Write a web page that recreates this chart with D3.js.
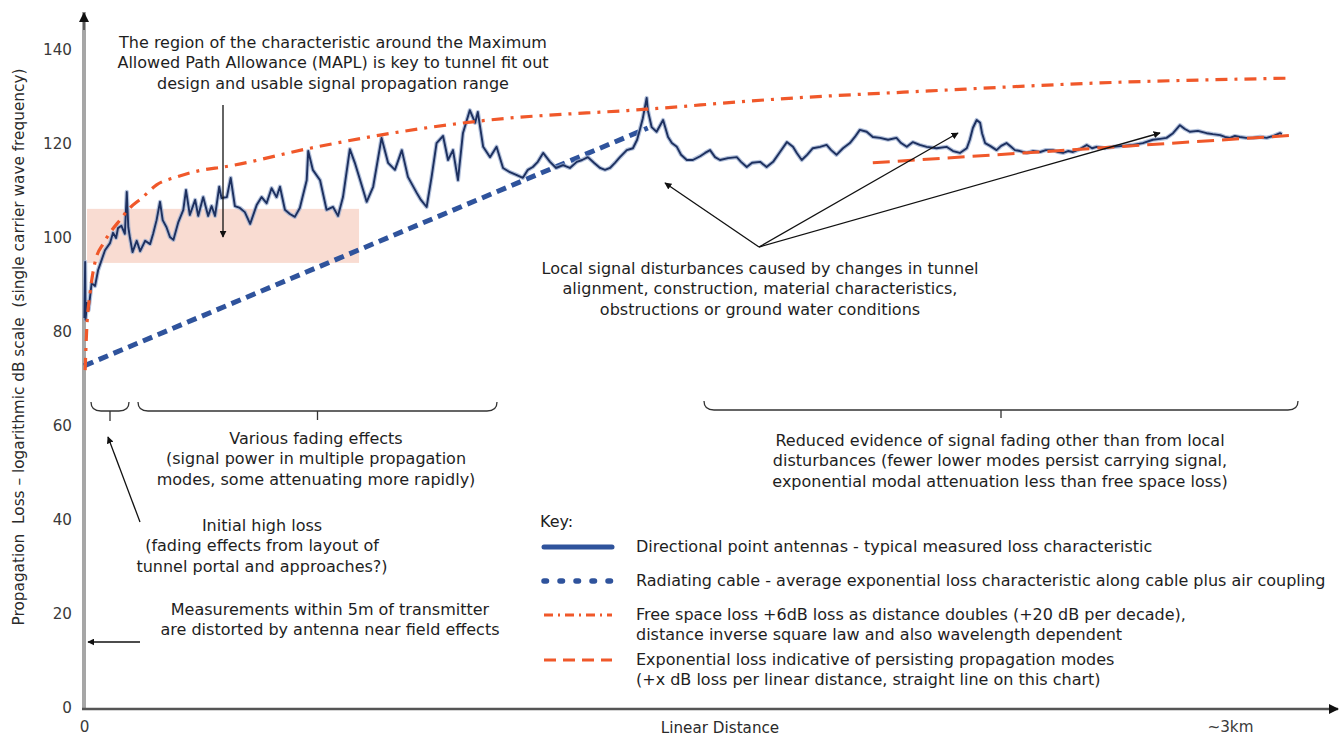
<!DOCTYPE html>
<html>
<head>
<meta charset="utf-8">
<script src="https://cdn.jsdelivr.net/npm/d3@7"></script>
<style>
  body { margin: 0; background: #ffffff; }
  svg { display: block; font-family: "DejaVu Sans", sans-serif; }
  .note { fill: #1e1e1e; font-size: 16px; }
  .tick text { fill: #3a3a3a; }
</style>
</head>
<body>
<svg id="chart" width="1344" height="740"></svg>
<script>
// ---- values --------------------------------------------------------------
const yTicks = [0, 20, 40, 60, 80, 100, 120, 140];
const xTickValues = [0, 3];
const xTickLabels = ["0", "~3km"];

// typical measured loss, directional point antennas (distance km, loss dB)
const measuredKm = [0.001,0.003,0.004,0.008,0.012,0.020,0.029,0.037,0.046,0.055,0.068,0.076,0.084,0.089,0.098,0.107,0.112,0.116,0.120,0.127,
  0.138,0.147,0.160,0.173,0.181,0.190,0.199,0.206,0.216,0.225,0.234,0.247,0.260,0.267,0.277,0.291,0.299,0.312,0.325,0.334,
  0.343,0.354,0.360,0.374,0.384,0.395,0.408,0.421,0.435,0.452,0.465,0.478,0.491,0.504,0.513,0.526,0.539,0.552,0.565,0.583,
  0.587,0.599,0.618,0.635,0.652,0.665,0.678,0.696,0.709,0.723,0.740,0.757,0.779,0.796,0.814,0.832,0.848,0.871,0.882,0.897,
  0.910,0.923,0.940,0.953,0.966,0.979,0.992,1.010,1.024,1.031,1.045,1.063,1.080,1.097,1.115,1.133,1.149,1.162,1.175,1.188,
  1.202,1.220,1.236,1.254,1.272,1.290,1.304,1.319,1.335,1.351,1.364,1.377,1.390,1.403,1.421,1.437,1.448,1.455,1.463,1.473,
  1.476,1.486,1.499,1.516,1.529,1.539,1.552,1.563,1.578,1.594,1.613,1.626,1.639,1.652,1.665,1.686,1.709,1.720,1.735,1.749,
  1.770,1.787,1.804,1.822,1.840,1.856,1.866,1.879,1.893,1.908,1.927,1.944,1.956,1.970,1.987,2.005,2.018,2.031,2.049,2.065,
  2.084,2.105,2.127,2.139,2.154,2.170,2.188,2.206,2.232,2.258,2.275,2.293,2.311,2.319,2.327,2.337,2.346,2.351,2.359,2.372,
  2.389,2.401,2.415,2.427,2.437,2.450,2.468,2.484,2.503,2.518,2.537,2.550,2.563,2.576,2.589,2.607,2.625,2.639,2.651,2.673,
  2.694,2.720,2.746,2.772,2.798,2.817,2.834,2.851,2.869,2.882,2.895,2.916,2.939,2.955,2.974,2.987,3.000,3.013,3.026,3.042,
  3.060,3.079,3.096,3.113,3.131,3.136];
const measuredDb = [83.0,94.9,82.6,86.2,84.7,90.4,89.8,93.2,95.3,97.4,98.9,101.1,100.0,102.1,102.6,100.9,109.8,102.3,100.2,97.0,
  99.4,97.2,99.4,98.7,100.9,103.8,107.7,103.8,102.3,100.2,99.6,103.4,106.0,110.2,104.9,108.1,104.7,108.7,104.7,106.8,
  104.7,110.9,108.5,108.7,112.8,106.8,106.4,105.5,103.0,107.0,108.7,107.4,110.6,108.7,110.9,106.0,105.1,104.5,106.4,112.3,
  118.5,114.5,112.3,106.0,106.6,104.7,108.7,118.9,116.0,112.3,107.7,110.9,121.3,116.0,114.5,118.7,113.0,109.6,108.1,106.6,
  113.0,120.2,121.7,116.6,118.7,112.3,122.3,127.2,124.5,126.8,119.4,117.2,119.4,114.9,114.0,113.4,112.8,114.5,115.1,116.2,
  118.1,116.2,114.9,115.5,114.9,116.2,116.6,117.2,116.0,114.9,114.5,114.9,116.0,117.2,118.7,119.1,120.9,123.0,125.5,129.8,
  127.2,123.6,122.6,125.1,121.5,120.2,119.4,117.7,116.6,116.6,117.4,118.1,118.7,117.2,116.6,117.0,117.2,116.2,115.1,116.0,
  116.2,115.1,116.2,118.3,120.4,119.4,118.1,116.6,117.7,119.1,119.4,119.8,118.7,117.7,119.1,120.2,121.5,123.0,122.6,121.5,
  121.3,120.9,121.3,120.2,119.4,120.4,119.8,119.4,119.1,119.4,118.5,118.1,119.1,120.9,123.4,125.1,124.5,122.3,120.2,119.6,
  118.7,119.6,120.2,119.4,118.7,118.5,118.1,118.5,118.3,118.7,118.7,118.3,118.1,118.5,118.3,118.9,119.8,119.1,119.4,119.1,
  119.4,119.6,119.8,120.2,120.9,121.1,121.3,122.3,124.0,123.2,122.6,122.8,122.3,122.1,121.9,121.5,121.3,121.7,121.5,121.3,
  121.3,121.5,121.3,121.7,122.3,122.1];

// free space loss reference (distance km, loss dB)
const freeSpaceKm = [0.003,0.007,0.016,0.029,0.051,0.068,0.094,0.120,0.151,0.190,0.243,0.312,0.364,0.592,0.775,1.037,1.473,1.822,2.215,2.660,3.149];
const freeSpaceDb = [71.9,80.4,88.3,94.9,98.9,101.1,103.8,106.4,108.5,111.3,113.0,114.5,115.1,119.1,121.9,124.9,127.4,129.6,131.3,133.0,134.0];

// radiating cable average loss (straight line)
const cableKm = [0.0, 1.476];
const cableDb = [72.8, 123.4];

// persisting-mode exponential loss (straight line)
const modalKm = [2.065, 3.175];
const modalDb = [116.0, 121.9];

// MAPL band
const maplKm = [0.008, 0.72];
const maplDb = [94.7, 106.2];

// ---- layout --------------------------------------------------------------
const svg = d3.select("#chart");
const x = d3.scaleLinear().domain([0, 3.275]).range([84, 1335]);
const y = d3.scaleLinear().domain([0, 140]).range([708, 50]);

const BLUE = "#2f539c", NAVY = "#1d305f", ORANGE = "#f0582a";

const defs = svg.append("defs");
defs.append("marker").attr("id", "arrow").attr("viewBox", "0 0 10 10")
  .attr("refX", 9).attr("refY", 5).attr("markerWidth", 7).attr("markerHeight", 7)
  .attr("markerUnits", "userSpaceOnUse").attr("orient", "auto")
  .append("path").attr("d", "M0,0 L10,5 L0,10 Z").attr("fill", "#111");
defs.append("marker").attr("id", "axisArrow").attr("viewBox", "0 0 10 10")
  .attr("refX", 9).attr("refY", 5).attr("markerWidth", 10).attr("markerHeight", 10)
  .attr("markerUnits", "userSpaceOnUse").attr("orient", "auto")
  .append("path").attr("d", "M0,0 L10,5 L0,10 Z").attr("fill", "#111");

// MAPL band
svg.append("rect")
  .attr("x", x(maplKm[0])).attr("width", x(maplKm[1]) - x(maplKm[0]))
  .attr("y", y(maplDb[1])).attr("height", y(maplDb[0]) - y(maplDb[1]))
  .attr("fill", "#f9dcd2");

// axes
svg.append("line").attr("x1", x(0)).attr("x2", x(0)).attr("y1", y(0)).attr("y2", 12)
  .attr("stroke", "#a6a6a6").attr("stroke-width", 4);
svg.append("line").attr("x1", x(0)).attr("x2", x(0)).attr("y1", 30).attr("y2", 13)
  .attr("stroke", "#111").attr("stroke-width", 1).attr("marker-end", "url(#axisArrow)");
svg.append("line").attr("x1", x(0) - 2).attr("x2", 1338).attr("y1", y(0) + 1).attr("y2", y(0) + 1)
  .attr("stroke", "#555").attr("stroke-width", 2.5).attr("marker-end", "url(#axisArrow)");

const yAxis = svg.append("g").attr("transform", `translate(${x(0) - 4},0)`)
  .call(d3.axisLeft(y).tickValues(yTicks).tickSize(0).tickPadding(8).tickFormat(d3.format("d")));
yAxis.select(".domain").remove();
yAxis.selectAll("text").attr("font-size", 15.2).attr("font-family", "'DejaVu Sans', sans-serif");

const xAxis = svg.append("g").attr("transform", `translate(0,${y(0)})`)
  .call(d3.axisBottom(x).tickValues(xTickValues).tickSize(0).tickPadding(13)
    .tickFormat((d, i) => xTickLabels[i]));
xAxis.select(".domain").remove();
xAxis.selectAll("text").attr("font-size", 15.2).attr("font-family", "'DejaVu Sans', sans-serif");

svg.append("text").attr("x", 720).attr("y", 733).attr("text-anchor", "middle")
  .attr("font-size", 15.2).attr("fill", "#2a2a2a").text("Linear Distance");

svg.append("text")
  .attr("transform", "translate(24,347) rotate(-90)")
  .attr("text-anchor", "middle").attr("font-size", 15.3).attr("fill", "#2a2a2a")
  .style("white-space", "pre")
  .text("Propagation  Loss \u2013 logarithmic dB scale  (single carrier wave frequency)");

// series
const line = d3.line().x(d => x(d[0])).y(d => y(d[1]));

svg.append("path").datum(cableKm.map((d, i) => [d, cableDb[i]]))
  .attr("d", line).attr("fill", "none").attr("stroke", BLUE)
  .attr("stroke-width", 5).attr("stroke-dasharray", "10 6").attr("stroke-linecap", "butt");

const measured = measuredKm.map((d, i) => [d, measuredDb[i]]);
svg.append("path").datum(measured).attr("d", line).attr("fill", "none")
  .attr("stroke", "#9aaccf").attr("stroke-width", 4.2).attr("stroke-linejoin", "round").attr("opacity", 0.75);
svg.append("path").datum(measured).attr("d", line).attr("fill", "none")
  .attr("stroke", NAVY).attr("stroke-width", 1.9).attr("stroke-linejoin", "round");

svg.append("path").datum(freeSpaceKm.map((d, i) => [d, freeSpaceDb[i]]))
  .attr("d", line.curve(d3.curveMonotoneX)).attr("fill", "none").attr("stroke", ORANGE)
  .attr("stroke-width", 3.2).attr("stroke-dasharray", "12 7 3 7");
line.curve(d3.curveLinear);

svg.append("path").datum(modalKm.map((d, i) => [d, modalDb[i]]))
  .attr("d", line).attr("fill", "none").attr("stroke", ORANGE)
  .attr("stroke-width", 3).attr("stroke-dasharray", "17 8");

// braces
function brace(x0, x1, top, mid, tick) {
  const c = (x0 + x1) / 2;
  svg.append("path")
    .attr("d", `M${x0},${top} Q${x0},${mid} ${x0 + 10},${mid} L${x1 - 10},${mid} Q${x1},${mid} ${x1},${top} M${c},${mid} L${c},${tick}`)
    .attr("fill", "none").attr("stroke", "#333").attr("stroke-width", 1.3);
}
brace(91, 129, 402, 411, 421);
brace(138, 497, 402, 411, 420);
brace(704, 1298, 401, 410, 418);

// annotations
function note(cx, cy, lines, anchor) {
  const t = svg.append("text").attr("class", "note").attr("text-anchor", anchor || "middle");
  lines.forEach((s, i) => t.append("tspan").attr("x", cx).attr("y", cy + i * 20.3).text(s));
  return t;
}
note(333, 48, ["The region of the characteristic around the Maximum",
  "Allowed Path Allowance (MAPL) is key to tunnel fit out",
  "design and usable signal propagation range"]);
note(316, 444, ["Various fading effects", "(signal power in multiple propagation",
  "modes, some attenuating more rapidly)"]);
note(262, 531, ["Initial high loss", "(fading effects from layout of",
  "tunnel portal and approaches?)"]);
note(330, 615, ["Measurements within 5m of transmitter",
  "are distorted by antenna near field effects"]);
note(760, 274, ["Local signal disturbances caused by changes in tunnel",
  "alignment, construction, material characteristics,",
  "obstructions or ground water conditions"]);
note(1000, 446, ["Reduced evidence of signal fading other than from local",
  "disturbances (fewer lower modes persist carrying signal,",
  "exponential modal attenuation less than free space loss)"]);

function arrow(x1, y1, x2, y2) {
  svg.append("line").attr("x1", x1).attr("y1", y1).attr("x2", x2).attr("y2", y2)
    .attr("stroke", "#111").attr("stroke-width", 1.3).attr("marker-end", "url(#arrow)");
}
arrow(223, 105, 223, 237);
arrow(140, 522, 108, 437);
arrow(140, 642, 88, 642);
arrow(759, 247, 665, 183);
arrow(759, 247, 958, 133);
arrow(759, 247, 1160, 133);

// key
const keyItems = [
  { dash: null, color: BLUE, width: 5, cap: "round", lines: ["Directional point antennas - typical measured loss characteristic"] },
  { dash: "2.5 13.5", color: BLUE, width: 5.5, cap: "round", lines: ["Radiating cable - average exponential loss characteristic along cable plus air coupling"] },
  { dash: "9 5 2 5", color: ORANGE, width: 3, cap: "butt", lines: ["Free space loss +6dB loss as distance doubles (+20 dB per decade),", "distance inverse square law and also wavelength dependent"] },
  { dash: "12 7", color: ORANGE, width: 3, cap: "butt", lines: ["Exponential loss indicative of persisting propagation modes", "(+x dB loss per linear distance, straight line on this chart)"] }
];
const keyY = [547, 581, 615, 660];
note(540, 527, ["Key:"], "start");
keyItems.forEach((k, i) => {
  svg.append("line").attr("x1", 544).attr("x2", 612).attr("y1", keyY[i]).attr("y2", keyY[i])
    .attr("stroke", k.color).attr("stroke-width", k.width).attr("stroke-linecap", k.cap)
    .attr("stroke-dasharray", k.dash);
  const t = svg.append("text").attr("class", "note");
  k.lines.forEach((s, j) => t.append("tspan").attr("x", 636).attr("y", keyY[i] + 5 + j * 19.5).text(s));
});
</script>
</body>
</html>
